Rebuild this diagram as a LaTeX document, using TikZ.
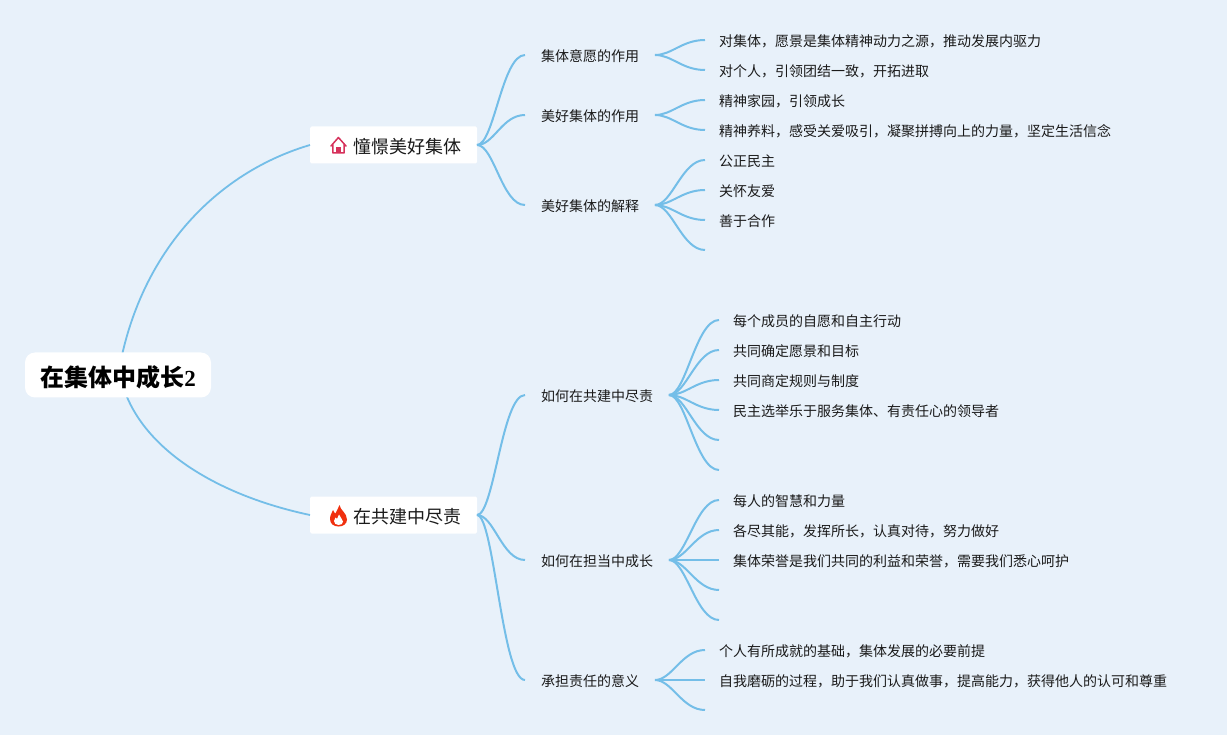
\documentclass[tikz,border=0pt]{standalone}
\usepackage{fontspec}
\setmainfont{Noto Sans CJK SC}
\newfontfamily\serifbold{Liberation Serif}
\definecolor{bgc}{HTML}{E8F1FA}
\definecolor{linec}{HTML}{74BEE8}
\definecolor{ink}{HTML}{1A1A1A}
\definecolor{housec}{HTML}{D6315B}
\definecolor{flamec}{HTML}{F0300F}
\tikzset{
  rootbox/.style={fill=white,rounded corners=10pt,minimum width=186pt,minimum height=45pt,inner sep=0pt,outer sep=0pt},
  roottext/.style={inner sep=0pt,outer sep=0pt,anchor=west,font=\fontsize{24}{28}\selectfont\bfseries,text=black},
  topicbox/.style={fill=white,rounded corners=1.5pt,minimum width=167pt,minimum height=37pt,inner sep=0pt,outer sep=0pt,anchor=west},
  topictext/.style={anchor=west,inner sep=0pt,outer sep=0pt,font=\fontsize{18}{22}\selectfont,text=ink},
  subbox/.style={text height=13pt,text depth=0pt,inner ysep=2pt,inner xsep=16pt,outer sep=0pt,anchor=west,font=\fontsize{14}{18}\selectfont,text=ink},
  leafbox/.style={text height=13pt,text depth=0pt,inner ysep=2pt,inner xsep=14pt,outer sep=0pt,anchor=west,font=\fontsize{14}{18}\selectfont,text=ink},
  link/.style={draw=linec,line width=2pt},
  mainlink/.style={draw=linec,line width=1.8pt},
}
\begin{document}
\begin{tikzpicture}[x=1pt,y=-1pt]
\useasboundingbox (0,0) rectangle (1227,735);
\fill[bgc] (0,0) rectangle (1227,735);

\coordinate (rt) at (122.5,353);
\coordinate (rb) at (127,397);

% root & topics
\node[topicbox] (t1) at (310,145) {};
\node[topicbox] (t2) at (310,515) {};
\draw[mainlink] (rt) .. controls (148,243) and (222,171) .. (t1.west);
\draw[mainlink] (rb) .. controls (152,456) and (225,497) .. (t2.west);
\node[rootbox] (root) at (118,375) {};
\node[roottext] (roottxt) at (40.5,377.2) {在集体中成长{\serifbold\bfseries\fontsize{23}{28}\selectfont 2}};
\node[topictext] (t1txt) at (353,146.6) {憧憬美好集体};
\node[topictext] (t2txt) at (353,516.6) {在共建中尽责};

% house icon
\draw[housec,line width=1.5pt,line join=round,line cap=round] (331,146) -- (338.4,137.5) -- (346,146) (332.8,144.5) -- (332.8,153) -- (344.2,153) -- (344.2,144.5);
\fill[housec] (336,147.5) rectangle (340.8,153.5);
% flame icon
\fill[flamec] (339.5,505)
  .. controls (340,510) and (347,513) .. (347,519.5)
  .. controls (347,524) and (343,526.5) .. (338.5,526.5)
  .. controls (333.5,526.5) and (330,523.5) .. (330,519)
  .. controls (330,515) and (332,513) .. (333,510)
  .. controls (334,512) and (334.5,513) .. (335.5,513.5)
  .. controls (336.5,511) and (338.5,508) .. (339.5,505) -- cycle;
\fill[white] (339,514.5)
  .. controls (340,518) and (343,519) .. (343,521.5)
  .. controls (343,524) and (341,525) .. (338.5,525)
  .. controls (336,525) and (334,523.5) .. (334,521)
  .. controls (334,519.5) and (335,518.5) .. (335.5,517.5)
  .. controls (336,518.5) and (336.5,519) .. (337,519)
  .. controls (337.5,517.5) and (338.5,516) .. (339,514.5) -- cycle;

% sub-topics
\node[subbox] (s1) at (525,55) {集体意愿的作用};
\node[subbox] (s2) at (525,115) {美好集体的作用};
\node[subbox] (s3) at (525,205) {美好集体的解释};
\node[subbox] (s4) at (525,395) {如何在共建中尽责};
\node[subbox] (s5) at (525,560) {如何在担当中成长};
\node[subbox] (s6) at (525,680) {承担责任的意义};

% leaves
\node[leafbox] (a1) at (705,40) {对集体，愿景是集体精神动力之源，推动发展内驱力};
\node[leafbox] (a2) at (705,70) {对个人，引领团结一致，开拓进取};
\node[leafbox] (b1) at (705,100) {精神家园，引领成长};
\node[leafbox] (b2) at (705,130) {精神养料，感受关爱吸引，凝聚拼搏向上的力量，坚定生活信念};
\node[leafbox] (c1) at (705,160) {公正民主};
\node[leafbox] (c2) at (705,190) {关怀友爱};
\node[leafbox] (c3) at (705,220) {善于合作};
\coordinate (c4) at (705,250);
\node[leafbox] (d1) at (719,320) {每个成员的自愿和自主行动};
\node[leafbox] (d2) at (719,350) {共同确定愿景和目标};
\node[leafbox] (d3) at (719,380) {共同商定规则与制度};
\node[leafbox] (d4) at (719,410) {民主选举乐于服务集体、有责任心的领导者};
\coordinate (d5) at (719,440);
\coordinate (d6) at (719,470);
\node[leafbox] (e1) at (719,500) {每人的智慧和力量};
\node[leafbox] (e2) at (719,530) {各尽其能，发挥所长，认真对待，努力做好};
\node[leafbox] (e3) at (719,560) {集体荣誉是我们共同的利益和荣誉，需要我们悉心呵护};
\coordinate (e4) at (719,590);
\coordinate (e5) at (719,620);
\node[leafbox] (f1) at (705,650) {个人有所成就的基础，集体发展的必要前提};
\node[leafbox] (f2) at (705,680) {自我磨砺的过程，助于我们认真做事，提高能力，获得他人的认可和尊重};
\coordinate (f3) at (705,710);

\foreach \from/\to in {t1.east/s1.west,t1.east/s2.west,t1.east/s3.west,t2.east/s4.west,t2.east/s5.west,t2.east/s6.west,
  s1.east/a1.west,s1.east/a2.west,s2.east/b1.west,s2.east/b2.west,
  s3.east/c1.west,s3.east/c2.west,s3.east/c3.west,s3.east/c4,
  s4.east/d1.west,s4.east/d2.west,s4.east/d3.west,s4.east/d4.west,s4.east/d5,s4.east/d6,
  s5.east/e1.west,s5.east/e2.west,s5.east/e3.west,s5.east/e4,s5.east/e5,
  s6.east/f1.west,s6.east/f2.west,s6.east/f3}{
  \draw[link] (\from) .. controls ([xshift=17pt]\from) and ([xshift=-23pt]\to) .. (\to);
}
\end{tikzpicture}
\end{document}
